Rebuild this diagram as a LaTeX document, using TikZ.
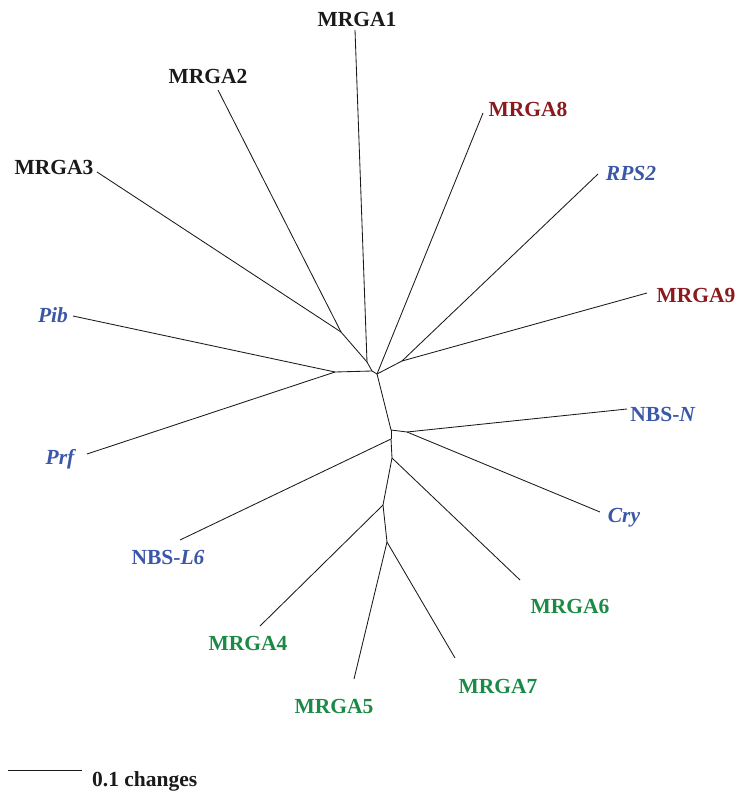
\documentclass[tikz,border=0pt]{standalone}
\usepackage{fontspec}
\setmainfont{Liberation Serif}
\definecolor{nbsred}{HTML}{8B1A1F}
\definecolor{nbsblue}{HTML}{3B57A8}
\definecolor{nbsgreen}{HTML}{1B8A47}
\definecolor{nbsblack}{HTML}{1A1A1A}
\tikzset{
  branch/.style={draw=nbsblack, line width=0.85pt},
  taxon/.style={font=\fontsize{21.5}{23}\selectfont\bfseries, inner sep=0pt, anchor=center},
  grpA/.style={taxon, text=nbsblack},
  grpB/.style={taxon, text=nbsred},
  grpC/.style={taxon, text=nbsblue},
  grpD/.style={taxon, text=nbsgreen},
}
\begin{document}
\begin{tikzpicture}[x=1pt, y=-1pt]
\useasboundingbox (0,0) rectangle (738,792);

% internal nodes of the unrooted tree
\coordinate (i23)  at (341,332);
\coordinate (i123) at (367,362);
\coordinate (ipp)  at (335,372);
\coordinate (iL)   at (372,371);
\coordinate (iR)   at (377,374);
\coordinate (i9)   at (402,361);
\coordinate (iN)   at (391,430);
\coordinate (iNC)  at (407,432);
\coordinate (iL6)  at (391,439);
\coordinate (i6)   at (392,458);
\coordinate (i4)   at (383,505);
\coordinate (i57)  at (387,542);

% leaf ends of the branches
\coordinate (e1)  at (355,30);
\coordinate (e2)  at (218,90);
\coordinate (e3)  at (97,172);
\coordinate (e8)  at (483,113);
\coordinate (eR)  at (598,174);
\coordinate (e9)  at (647,293);
\coordinate (eP)  at (73,316);
\coordinate (eF)  at (87,454);
\coordinate (eN)  at (627,409);
\coordinate (eC)  at (600,512);
\coordinate (eL)  at (180,540);
\coordinate (e6)  at (520,580);
\coordinate (e4)  at (260,626);
\coordinate (e5)  at (354,679);
\coordinate (e7)  at (455,658);

% branches
\draw[branch] (e3) -- (i23);
\draw[branch] (e2) -- (i23);
\draw[branch] (i23) -- (i123);
\draw[branch] (e1) -- (i123);
\draw[branch] (i123) -- (iL);
\draw[branch] (eP) -- (ipp);
\draw[branch] (eF) -- (ipp);
\draw[branch] (ipp) -- (iL);
\draw[branch] (iL) -- (iR);
\draw[branch] (e8) -- (iR);
\draw[branch] (eR) -- (i9);
\draw[branch] (e9) -- (i9);
\draw[branch] (i9) -- (iR);
\draw[branch] (iR) -- (iN);
\draw[branch] (iN) -- (iNC);
\draw[branch] (iNC) -- (eN);
\draw[branch] (iNC) -- (eC);
\draw[branch] (iN) -- (iL6);
\draw[branch] (iL6) -- (eL);
\draw[branch] (iL6) -- (i6);
\draw[branch] (i6) -- (e6);
\draw[branch] (i6) -- (i4);
\draw[branch] (i4) -- (e4);
\draw[branch] (i4) -- (i57);
\draw[branch] (i57) -- (e5);
\draw[branch] (i57) -- (e7);

% taxon labels
\node[grpA] (l1) at (357,19)  {MRGA1};
\node[grpA] (l2) at (208,76)  {MRGA2};
\node[grpA] (l3) at (54,167)  {MRGA3};
\node[grpB] (l8) at (528,109) {MRGA8};
\node[grpC] (lR) at (631,173) {\itshape RPS2};
\node[grpB] (l9) at (696,295) {MRGA9};
\node[grpC] (lP) at (53,315)  {\itshape Pib};
\node[grpC] (lF) at (60,459)  {\itshape Prf};
\node[grpC] (lN) at (663,414) {NBS-\textit{N}};
\node[grpC] (lC) at (624,518) {\itshape Cry};
\node[grpC] (lL) at (168,557) {NBS-\textit{L6}};
\node[grpD] (l6) at (570,606) {MRGA6};
\node[grpD] (l4) at (248,643) {MRGA4};
\node[grpD] (l5) at (334,706) {MRGA5};
\node[grpD] (l7) at (498,686) {MRGA7};

% scale bar
\coordinate (sa) at (8,770);
\coordinate (sb) at (82,770);
\draw[branch] (sa) -- (sb);
\node[taxon, text=nbsblack, anchor=west] (sl) at (92,781) {0.1 changes};
\end{tikzpicture}
\end{document}
